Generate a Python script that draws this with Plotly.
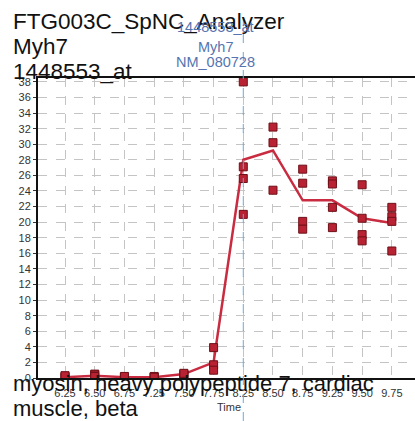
import plotly.graph_objects as go

categories = ["6.25", "6.50", "6.75", "7.25", "7.50", "7.75",
              "8.25", "8.50", "8.75", "9.25", "9.50", "9.75"]
replicates = [
    [0.2, 0.1, 0.3],
    [0.5, 0.4, 0.2],
    [0.1, 0.1, 0.2],
    [0.1, 0.2, 0.1],
    [0.5, 0.4, 0.6],
    [3.9, 1.7, 1.0],
    [38.0, 27.1, 25.6, 21.0],
    [32.2, 30.2, 24.1],
    [26.8, 25.0, 20.1, 19.1],
    [25.3, 24.9, 21.9, 19.3],
    [24.8, 20.5, 18.4, 17.6],
    [21.9, 20.7, 20.1, 16.3],
]
mean_line = [0.1, 0.3, 0.1, 0.1, 0.5, 2.0, 28.0, 29.2, 22.8, 22.8, 20.5, 19.9]
y_ticks = list(range(0, 39, 2))

title_lines = ["FTG003C_SpNC_Analyzer", "Myh7", "1448553_at"]
probe_lines = ["1448553_at", "Myh7", "NM_080728"]
desc_lines = ["myosin, heavy polypeptide 7, cardiac", "muscle, beta"]
marker_idx = categories.index("8.25")

W, H = 415, 421
L, T, B = 38, 78, 378
PW = W - L
PH = B - T


def px(p):
    return (p - L) / PW


def py(p):
    return (B - p) / PH


xs, ys = [], []
for c, vals in zip(categories, replicates):
    for v in vals:
        xs.append(c)
        ys.append(v)

fig = go.Figure()
fig.add_trace(go.Scatter(x=categories, y=mean_line, mode="lines",
                         line=dict(color="#c92c40", width=2.5),
                         hoverinfo="skip", showlegend=False))
fig.add_trace(go.Scatter(x=xs, y=ys, mode="markers",
                         marker=dict(symbol="square", size=8, color="#b82232",
                                     line=dict(color="#6e1018", width=1)),
                         showlegend=False))

fig.add_shape(type="line", xref="x", yref="paper", x0=marker_idx, x1=marker_idx,
              y0=py(421), y1=py(18), line=dict(color="#66aadd", width=1, dash="dash"),
              layer="above")

annots = []
for t, by in zip(title_lines, [27, 52, 77]):
    annots.append(dict(text=t, xref="paper", yref="paper", x=px(11), y=py(by + 9),
                       xanchor="left", yanchor="bottom", showarrow=False,
                       font=dict(family="Liberation Sans, Arial", size=22.5, color="#111111")))
for t, by in zip(probe_lines, [33, 53, 68]):
    annots.append(dict(text=t, xref="paper", yref="paper", x=px(215), y=py(by + 4),
                       xanchor="center", yanchor="bottom", showarrow=False,
                       font=dict(family="Liberation Sans, Arial", size=14.5, color="#5574b0")))
for t, by in zip(desc_lines, [392, 417]):
    annots.append(dict(text=t, xref="paper", yref="paper", x=px(11), y=py(by + 6),
                       xanchor="left", yanchor="bottom", showarrow=False,
                       font=dict(family="Liberation Sans, Arial", size=22, color="#111111")))
annots.append(dict(text="Time", xref="x", yref="paper", x=marker_idx, y=py(407),
                   xanchor="right", yanchor="middle", showarrow=False, xshift=0,
                   font=dict(family="Liberation Sans Narrow, Liberation Sans", size=11, color="#333333")))

fig.update_layout(
    width=W, height=H,
    margin=dict(l=L, r=0, t=T, b=H - B, pad=0),
    paper_bgcolor="white", plot_bgcolor="white",
    annotations=annots,
    xaxis=dict(type="category", categoryorder="array", categoryarray=categories,
               range=[-0.91, 11.78], showgrid=True, gridcolor="#c4c4c4",
               griddash="dash", gridwidth=1, showline=True, linecolor="#111111",
               linewidth=2, mirror=True, ticks="", zeroline=False,
               ticklabelstandoff=4,
               tickfont=dict(family="Liberation Sans Narrow, Liberation Sans", size=11, color="#333333")),
    yaxis=dict(range=[0, 38.5], tickvals=y_ticks, showgrid=True, gridcolor="#c4c4c4",
               griddash="dash", gridwidth=1, showline=True, linecolor="#111111",
               linewidth=2, ticks="outside", ticklen=3, tickcolor="#333333",
               zeroline=False,
               tickfont=dict(family="Liberation Sans Narrow, Liberation Sans", size=11, color="#333333")),
)

fig.write_html("out.html")
